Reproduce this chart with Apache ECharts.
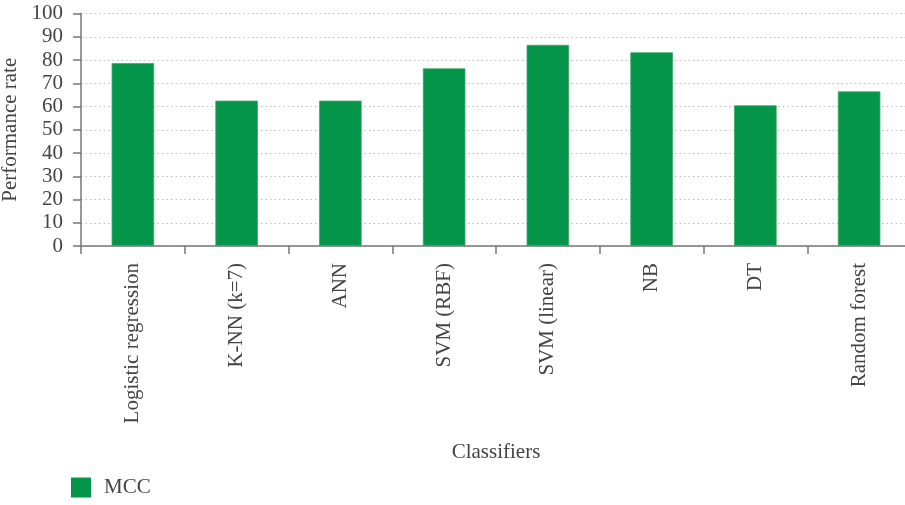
<!DOCTYPE html>
<html>
<head>
<meta charset="utf-8">
<script src="https://cdn.jsdelivr.net/npm/echarts@6/dist/echarts.min.js"></script>
<style>html,body{margin:0;padding:0;background:#fff;}#c{width:905px;height:505px;}</style>
</head>
<body>
<div id="c"></div>
<script>
const categories = ['Logistic regression', 'K-NN (k=7)', 'ANN', 'SVM (RBF)', 'SVM (linear)', 'NB', 'DT', 'Random forest'];
const mccValues = [78.7, 62.5, 62.5, 76.4, 86.5, 83.3, 60.5, 66.5];
const seriesName = 'MCC';
const yTicks = { min: 0, max: 100, interval: 10 };

const FONT = 'Liberation Serif';
const chart = echarts.init(document.getElementById('c'), null, { renderer: 'canvas' });
chart.setOption({
  animation: false,
  backgroundColor: '#fff',
  textStyle: { fontFamily: FONT },
  legend: {
    data: [seriesName],
    left: 66, top: 472,
    itemWidth: 20, itemHeight: 20,
    icon: 'rect',
    itemGap: 10,
    itemStyle: { borderWidth: 0 },
    textStyle: { fontFamily: FONT, fontSize: 21, color: '#444', padding: [0, 0, 0, 8] }
  },
  grid: { left: 81, top: 13.5, width: 830, height: 232.5, containLabel: false, outerBoundsMode: 'none' },
  xAxis: {
    type: 'category',
    data: categories,
    name: 'Classifiers',
    nameLocation: 'middle',
    nameGap: 196,
    nameTextStyle: { fontFamily: FONT, fontSize: 21, color: '#444' },
    axisLine: { lineStyle: { color: '#777', width: 1.5 } },
    axisTick: { show: true, length: 8, alignWithLabel: false, lineStyle: { color: '#777', width: 1.5 } },
    axisLabel: { rotate: 90, margin: 17, fontFamily: FONT, fontSize: 21, color: '#444', interval: 0 },
    splitLine: { show: false }
  },
  yAxis: {
    type: 'value',
    min: yTicks.min, max: yTicks.max, interval: yTicks.interval,
    name: 'Performance rate',
    nameLocation: 'middle',
    nameGap: 51,
    nameRotate: 90,
    nameTextStyle: { fontFamily: FONT, fontSize: 21, color: '#444' },
    axisLine: { show: true, lineStyle: { color: '#777', width: 1.5 } },
    axisTick: { show: true, length: 8, lineStyle: { color: '#777', width: 1.5 } },
    axisLabel: { margin: 18, fontFamily: FONT, fontSize: 21, color: '#444' },
    splitLine: { show: true, lineStyle: { color: '#bbb', type: [1.5, 3], width: 1 } }
  },
  series: [{
    name: seriesName,
    type: 'bar',
    data: mccValues,
    barWidth: 42.5,
    itemStyle: { color: '#04954a', borderColor: '#3aa865', borderWidth: 0.8 }
  }]
});
</script>
</body>
</html>
